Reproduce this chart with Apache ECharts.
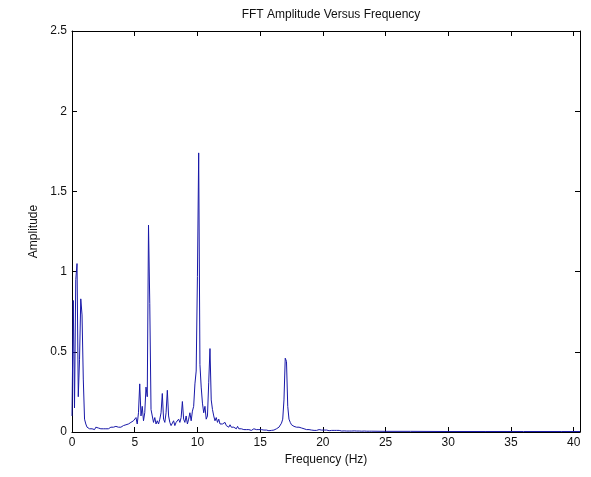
<!DOCTYPE html>
<html>
<head>
<meta charset="utf-8">
<script src="https://cdn.jsdelivr.net/npm/echarts@6/dist/echarts.min.js"></script>
<style>
html,body{margin:0;padding:0;background:#fff;}
#chart{width:591px;height:477px;}
</style>
</head>
<body>
<div id="chart"></div>
<script>
// Frequency step of the main spectrum (Hz) and amplitudes from 0.0 to 24.0 Hz
var freqStep = 0.1;
var amplitude = [
  0.10, 0.82, 0.15, 0.95, 1.05, 0.22, 0.45, 0.83, 0.73, 0.33,
  0.08, 0.05, 0.03, 0.04, 0.02, 0.03, 0.02, 0.025, 0.015, 0.03,
  0.02, 0.025, 0.015, 0.02, 0.03, 0.02, 0.025, 0.02, 0.03, 0.02,
  0.025, 0.03, 0.02, 0.03, 0.025, 0.035, 0.025, 0.03, 0.04, 0.03,
  0.035, 0.04, 0.03, 0.045, 0.04, 0.05, 0.04, 0.06, 0.05, 0.07,
  0.06, 0.09, 0.05, 0.12, 0.30, 0.10, 0.16, 0.07, 0.12, 0.28,
  0.22, 1.29, 0.80, 0.14, 0.10, 0.06, 0.09, 0.05, 0.07, 0.05,
  0.08, 0.12, 0.24, 0.08, 0.06, 0.12, 0.26, 0.10, 0.06, 0.04,
  0.05, 0.07, 0.04, 0.06, 0.05, 0.08, 0.06, 0.09, 0.19, 0.08,
  0.06, 0.10, 0.05, 0.08, 0.12, 0.07, 0.13, 0.16, 0.30, 0.38,
  0.97, 1.74, 0.42, 0.28, 0.18, 0.12, 0.16, 0.08, 0.10, 0.31,
  0.52, 0.20, 0.14, 0.10, 0.07, 0.09, 0.06, 0.08, 0.05, 0.06,
  0.05, 0.04, 0.06, 0.04, 0.05, 0.03, 0.045, 0.03, 0.04, 0.03,
  0.03, 0.02, 0.035, 0.02, 0.025, 0.02, 0.03, 0.015, 0.02, 0.015,
  0.02, 0.015, 0.02, 0.01, 0.015, 0.02, 0.01, 0.015, 0.01, 0.015,
  0.01, 0.015, 0.01, 0.012, 0.008, 0.012, 0.01, 0.008, 0.012, 0.01,
  0.015, 0.012, 0.02, 0.02, 0.025, 0.03, 0.04, 0.055, 0.08, 0.20,
  0.46, 0.44, 0.16, 0.08, 0.06, 0.045, 0.04, 0.035, 0.03, 0.03,
  0.025, 0.03, 0.02, 0.025, 0.02, 0.02, 0.025, 0.015, 0.02, 0.015,
  0.02, 0.012, 0.018, 0.01, 0.015, 0.01, 0.012, 0.015, 0.01, 0.012,
  0.01, 0.012, 0.008, 0.012, 0.01, 0.008, 0.012, 0.01, 0.008, 0.01,
  0.008, 0.01, 0.006, 0.01, 0.008, 0.006, 0.01, 0.007, 0.009, 0.006,
  0.008, 0.006, 0.009, 0.006, 0.008, 0.007, 0.009, 0.006, 0.008, 0.006,
  0.008, 0.005, 0.009, 0.006, 0.008, 0.005, 0.007, 0.005, 0.006, 0.005,
  0.005
];
// Flat high-frequency tail
var tailFreq = [25, 27, 30, 33, 36, 39, 40.5];
var tailAmp  = [0.004, 0.004, 0.003, 0.003, 0.003, 0.003, 0.003];

var xTicks = [0, 5, 10, 15, 20, 25, 30, 35, 40];
var yTicks = [0, 0.5, 1, 1.5, 2, 2.5];

var data = [];
for (var i = 0; i < amplitude.length; i++) {
  data.push([+(i * freqStep).toFixed(2), amplitude[i]]);
}
for (var j = 0; j < tailFreq.length; j++) {
  data.push([tailFreq[j], tailAmp[j]]);
}

var FONT = 'Liberation Sans, Arial, sans-serif';
var axisLineStyle = {color: '#000', width: 1};
function xAx(pos, showLabel) {
  return {
    type: 'value', position: pos, min: xTicks[0], max: 40.5, interval: 5,
    axisLine: {show: true, onZero: false, lineStyle: axisLineStyle},
    axisTick: {show: true, inside: true, length: 5, lineStyle: axisLineStyle},
    axisLabel: {show: showLabel, color: '#111', fontSize: 12, fontFamily: FONT, margin: 5, showMaxLabel: false},
    splitLine: {show: false},
    name: showLabel ? 'Frequency (Hz)' : '',
    nameLocation: 'middle', nameGap: 19,
    nameTextStyle: {color: '#111', fontSize: 12, fontFamily: FONT}
  };
}
function yAx(pos, showLabel) {
  return {
    type: 'value', position: pos, min: yTicks[0], max: yTicks[yTicks.length - 1], interval: 0.5,
    axisLine: {show: true, onZero: false, lineStyle: axisLineStyle},
    axisTick: {show: true, inside: true, length: 5, lineStyle: axisLineStyle},
    axisLabel: {show: showLabel, color: '#111', fontSize: 12, fontFamily: FONT, margin: 5},
    splitLine: {show: false},
    name: showLabel ? 'Amplitude' : '',
    nameLocation: 'middle', nameGap: 30,
    nameTextStyle: {color: '#111', fontSize: 12, fontFamily: FONT}
  };
}

var chart = echarts.init(document.getElementById('chart'), null, {renderer: 'canvas'});
chart.setOption({
  animation: false,
  backgroundColor: '#fff',
  title: {
    text: 'FFT Amplitude Versus Frequency',
    left: 326, top: 4, textAlign: 'center',
    textStyle: {color: '#111', fontSize: 12, fontWeight: 'normal', fontFamily: FONT}
  },
  grid: {left: 72, right: 11, top: 31, bottom: 45},
  xAxis: [xAx('bottom', true), xAx('top', false)],
  yAxis: [yAx('left', true), yAx('right', false)],
  series: [{
    type: 'line',
    data: data,
    xAxisIndex: 0, yAxisIndex: 0,
    showSymbol: false,
    lineStyle: {color: '#1818a8', width: 1},
    silent: true
  }]
});
</script>
</body>
</html>
